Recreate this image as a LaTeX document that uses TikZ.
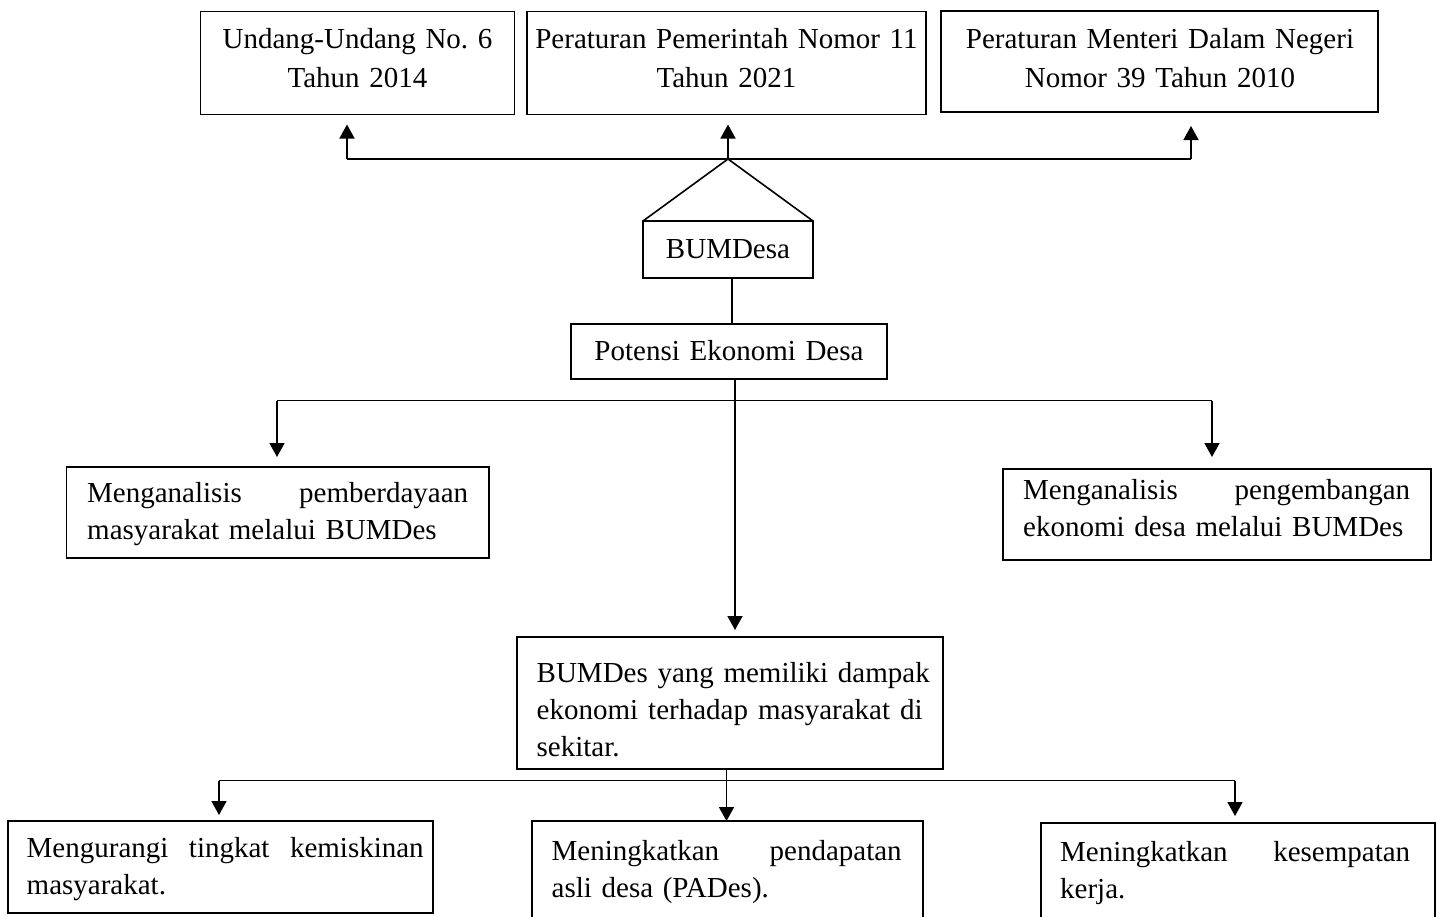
\documentclass[tikz,border=0pt]{standalone}
\usepackage{fontspec}
\setmainfont{Liberation Serif}
\usetikzlibrary{arrows.meta}
\newcommand{\jgap}{\hspace{0pt plus 1fill}}
\newcommand{\jline}[2]{\makebox[#1][l]{#2}}
\begin{document}
\frenchspacing
\begin{tikzpicture}[x=1pt,y=-1pt,
  box/.style={draw, line width=1.3pt, outer sep=0pt, inner sep=0pt, anchor=north west},
  txt/.style={inner sep=0pt, font=\fontsize{29}{37}\selectfont\frenchspacing, text width=#1, align=left, anchor=base west},
  ctxt/.style={inner sep=0pt, font=\fontsize{29}{39}\selectfont\frenchspacing, text width=430pt, align=center, anchor=base},
  conn/.style={line width=1.6pt},
  arr/.style={conn, -{Triangle[length=14pt,width=15pt]}}]
\clip (0,0) rectangle (1437,916);
\fill[white] (0,0) rectangle (1437,916);
% top boxes
\node[box, minimum width=314pt, minimum height=103pt] (u1) at (200.5,11.5) {};
\node[ctxt] (u1t) at (357.5,48) {Undang-Undang No. 6\\Tahun 2014};
\node[box, minimum width=399pt, minimum height=103pt] (u2) at (527,11.5) {};
\node[ctxt] (u2t) at (726.5,48) {Peraturan Pemerintah Nomor 11\\Tahun 2021};
\node[box, minimum width=437pt, minimum height=101pt] (u3) at (941,11) {};
\node[ctxt] (u3t) at (1160,48) {Peraturan Menteri Dalam Negeri\\Nomor 39 Tahun 2010};
% BUMDesa and Potensi
\node[box, minimum width=170pt, minimum height=57pt] (bum) at (643,221) {};
\node[ctxt] (bumt) at (728,258.5) {BUMDesa};
\node[box, minimum width=316pt, minimum height=55pt] (pot) at (571,324) {};
\node[ctxt] (pott) at (729,360) {Potensi Ekonomi Desa};
% middle row
\node[box, minimum width=422.5pt, minimum height=91pt] (ml) at (66.5,467) {};
\node[txt=381pt] (mlt) at (87,502) {\jline{381pt}{Menganalisis \jgap pemberdayaan}\\masyarakat melalui BUMDes};
\node[box, minimum width=428pt, minimum height=91pt] (mr) at (1003,469) {};
\node[txt=387pt] (mrt) at (1023,499.5) {\jline{387pt}{Menganalisis \jgap pengembangan}\\ekonomi desa melalui BUMDes};
\node[box, minimum width=426pt, minimum height=132pt] (mid) at (517,637) {};
\node[txt=386pt] (midt) at (536.5,682) {\jline{386pt}{BUMDes \jgap yang \jgap memiliki \jgap dampak}\\\jline{386pt}{ekonomi \jgap terhadap \jgap masyarakat \jgap di}\\sekitar.};
% bottom row
\node[box, minimum width=425pt, minimum height=92pt] (b1) at (8,821) {};
\node[txt=397pt] (b1t) at (26.5,857) {\jline{397pt}{Mengurangi \jgap tingkat \jgap kemiskinan}\\masyarakat.};
\node[box, minimum width=391pt, minimum height=110pt] (b2) at (532,821) {};
\node[txt=350pt] (b2t) at (551.5,860) {\jline{350pt}{Meningkatkan \jgap pendapatan}\\asli desa (PADes).};
\node[box, minimum width=394pt, minimum height=110pt] (b3) at (1041,823) {};
\node[txt=350pt] (b3t) at (1060,861.5) {\jline{350pt}{Meningkatkan \jgap kesempatan}\\kerja.};
% junction coordinates
\coordinate (apex) at (728,159);
\coordinate (ja) at (347,159);
\coordinate (jc) at (1191,159);
\coordinate (jpot) at (735,400.5);
\coordinate (jl) at (277,400.5);
\coordinate (jr) at (1212,400.5);
\coordinate (jmid) at (726.5,780.5);
\coordinate (jb1) at (219,780.5);
\coordinate (jb3) at (1235,780.5);
% top connectors
\draw[conn, line width=1.9pt] (ja) -- (jc);
\draw[arr] (ja) -- ([yshift=-10pt]ja |- u1.south);
\draw[arr] (apex) -- ([yshift=-10pt]apex |- u2.south);
\draw[arr] (jc) -- ([yshift=-14pt]jc |- u3.south);
\draw[conn, line join=miter] (bum.north west) -- (apex) -- (bum.north east);
% BUMDesa -- Potensi
\draw[conn] ([xshift=4pt]bum.south) -- ([xshift=4pt]bum.south |- pot.north);
% Potensi down
\draw[arr] (jpot |- pot.south) -- ([yshift=7pt]jpot |- mid.north);
\draw[conn] (jl) -- (jr);
\draw[arr] (jl) -- ([yshift=10pt]jl |- ml.north);
\draw[arr] (jr) -- ([yshift=12pt]jr |- mr.north);
% middle box down
\draw[conn] (jmid |- mid.south) -- (jmid);
\draw[conn] (jb1) -- (jb3);
\draw[arr] (jb1) -- ([yshift=6pt]jb1 |- b1.north);
\draw[arr] (jmid) -- (jmid |- b2.north);
\draw[arr] (jb3) -- ([yshift=7pt]jb3 |- b3.north);
\end{tikzpicture}
\end{document}
